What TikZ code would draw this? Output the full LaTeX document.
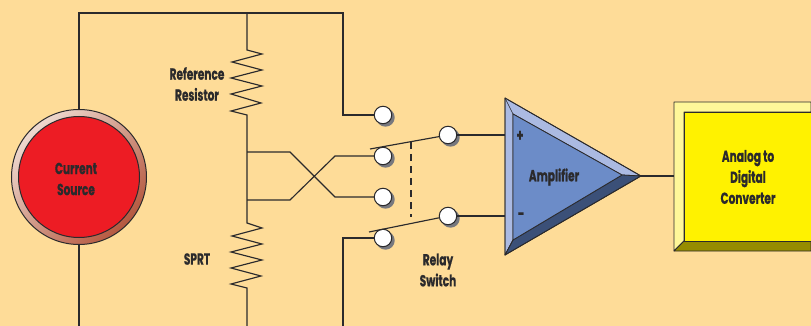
\documentclass[tikz,border=0pt]{standalone}
\usepackage{fontspec}
\setmainfont{Poppins}[BoldFont=* Bold,BoldFeatures={FakeStretch=0.66,FakeBold=0.7}]
\definecolor{bgc}{HTML}{FEDC98}
\definecolor{ink}{HTML}{2B2A2C}
\definecolor{ampmain}{HTML}{6C8CC8}
\definecolor{amplight}{HTML}{ABBAE2}
\definecolor{ampdark}{HTML}{3B5078}
\definecolor{adcmain}{HTML}{FFF200}
\definecolor{adclight}{HTML}{FFF799}
\definecolor{adcdark}{HTML}{968C00}
\definecolor{srcred}{HTML}{ED1C24}
\definecolor{ringlight}{HTML}{EEDAD0}
\definecolor{ringdark}{HTML}{B5583F}
\definecolor{termshade}{HTML}{77787E}
\tikzset{
  wire/.style={draw=ink,line width=1.15pt,line join=miter},
  terminal/.style={circle,draw=ink,line width=1pt,fill=white,minimum size=17.5pt,inner sep=0pt},
  termshadow/.style={fill=termshade},
  lbl/.style={font=\bfseries\fontsize{16}{21}\selectfont,text=ink,align=center,inner sep=0pt},
  facet/.style={draw=ink,line width=.8pt,line join=round},
}
\begin{document}
\begin{tikzpicture}[x=1pt,y=-1pt]
\useasboundingbox (0,0) rectangle (811,326);
\fill[bgc] (0,0) rectangle (811,326);
% named points
\coordinate (srcTop) at (79,13);
\coordinate (srcEnd) at (79,326);
\coordinate (busTop) at (247,13);
\coordinate (refA) at (343,13);
\coordinate (refB) at (343,115);
\coordinate (j1) at (247,152);
\coordinate (j2) at (247,200);
\coordinate (x1) at (290,152);
\coordinate (x2) at (335,197);
\coordinate (y1) at (290,200);
\coordinate (y2) at (335,156);
\coordinate (botEnd) at (247,326);
\coordinate (loA) at (343,238);
\coordinate (loB) at (343,326);
\coordinate (ampA) at (505,98);
\coordinate (ampB) at (505,255);
\coordinate (ampC) at (641,176);
\coordinate (ampa) at (513,114);
\coordinate (ampb) at (513,240);
\coordinate (ampc) at (622,175);
\coordinate (ampP) at (505,135);
\coordinate (ampM) at (505,216);
\coordinate (adcIn) at (674,176);
\coordinate (r1s) at (247,50);
\coordinate (r1e) at (247,115);
\coordinate (r2s) at (247,223);
\coordinate (r2e) at (247,288);
\coordinate (armA) at (370,149);
\coordinate (armB) at (369,232);
\coordinate (dashA) at (411,142);
\coordinate (dashB) at (411,217);
% source
\node[circle,draw=ink,line width=1pt,minimum size=135pt,inner sep=0pt,
  top color=ringlight,bottom color=ringdark,shading angle=45] (ring) at (79,177) {};
\node[circle,draw=ink,line width=1pt,fill=srcred,minimum size=121pt,inner sep=0pt] (src) at (79,177) {};
\node[lbl] (srcLabel) at (76,179) {Current\\Source};
% terminal centres and their shadows
\coordinate (c1) at (383,115);
\coordinate (c2) at (383,156);
\coordinate (c3) at (383,197);
\coordinate (c4) at (383,238);
\coordinate (c5) at (448,135);
\coordinate (c6) at (448,216);
\fill[termshadow] (385.5,117.5) circle [radius=9.2];
\fill[termshadow] (385.5,158.5) circle [radius=9.2];
\fill[termshadow] (385.5,199.5) circle [radius=9.2];
\fill[termshadow] (385.5,240.5) circle [radius=9.2];
\fill[termshadow] (450.5,137.5) circle [radius=9.2];
\fill[termshadow] (450.5,218.5) circle [radius=9.2];
% terminals
\node[terminal] (t1) at (c1) {};
\node[terminal] (t2) at (c2) {};
\node[terminal] (t3) at (c3) {};
\node[terminal] (t4) at (c4) {};
\node[terminal] (p1) at (c5) {};
\node[terminal] (p2) at (c6) {};
% wiring
\draw[wire] (ring.north) -- (srcTop) -- (refA) -- (refB) -- (t1);
\draw[wire] (ring.south) -- (srcEnd);
\draw[wire] (busTop) -- (r1s) -- ++(15,4) -- ++(-30,8) -- ++(30,8) -- ++(-31,8) -- ++(31,8) -- ++(-31,8) -- ++(30,9) -- ++(-30,8) -- (r1e) -- (r2s)
  -- ++(15,5) -- ++(-30,8) -- ++(30,8) -- ++(-31,8) -- ++(31,8) -- ++(-31,8) -- ++(30,8) -- ++(-30,8) -- (r2e) -- (botEnd);
\draw[wire] (j1) -- (x1) -- (x2) -- (t3);
\draw[wire] (j2) -- (y1) -- (y2) -- (t2);
\draw[wire] (t4) -- (loA) -- (loB);
\draw[wire] (armA) -- (p1);
\draw[wire] (armB) -- (p2);
\draw[wire,dash pattern=on 7pt off 5pt] (dashA) -- (dashB);
\draw[wire] (p1) -- (ampP);
\draw[wire] (p2) -- (ampM);
\draw[wire] (ampC) -- (adcIn);
% amplifier
\filldraw[facet,fill=amplight] (ampA) -- (ampC) -- (ampc) -- (ampa) -- (ampb) -- (ampB) -- cycle;
\filldraw[facet,fill=ampdark] (ampB) -- (ampC) -- (ampc) -- (ampb) -- cycle;
\filldraw[facet,fill=ampmain] (ampa) -- (ampc) -- (ampb) -- cycle;
\draw[facet] (ampA) -- (ampB) -- (ampC) -- cycle;
\draw[facet,line width=.5pt] (ampA) -- (ampa) (ampB) -- (ampb);
\node[lbl] (amp) at (554,177) {Amplifier};
\node[lbl,font=\bfseries\fontsize{17}{17}\selectfont] (plus) at (520,136) {+};
\node[lbl,font=\bfseries\fontsize{17}{17}\selectfont] (minus) at (521,216) {-};
% ADC
\filldraw[facet,fill=adclight] (811,102) -- (674,102) -- (674,251) -- (684,241) -- (684,112) -- (811,112) -- cycle;
\filldraw[facet,fill=adcdark] (674,251) -- (811,251) -- (811,241) -- (684,241) -- cycle;
\filldraw[facet,fill=adcmain] (684,112) rectangle (811,241);
\node[lbl] (adc) at (748,177) {Analog to\\Digital\\Converter};
% labels
\node[lbl] (ref) at (197,84) {Reference\\Resistor};
\node[lbl] (sprt) at (197,259) {SPRT};
\node[lbl] (relay) at (438,270) {Relay\\Switch};
\end{tikzpicture}
\end{document}
